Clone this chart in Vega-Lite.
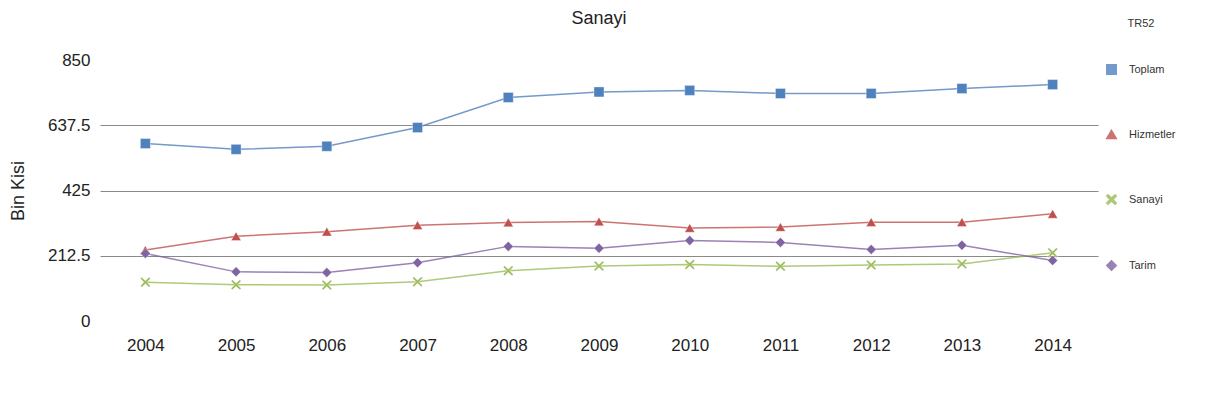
{
  "$schema": "https://vega.github.io/schema/vega-lite/v6.json",
  "width": 998,
  "height": 261,
  "autosize": {"type": "none"},
  "padding": {"left": 100, "top": 60, "right": 113, "bottom": 98},
  "background": "white",
  "config": {
    "font": "Liberation Sans",
    "view": {"stroke": null},
    "title": {"fontSize": 18, "fontWeight": "normal", "color": "#222", "offset": -10}
  },
  "title": {"text": "Sanayi"},
  "data": {
    "values": [
      {"yil": "2004", "seri": "Toplam", "deger": 578},
      {"yil": "2005", "seri": "Toplam", "deger": 559},
      {"yil": "2006", "seri": "Toplam", "deger": 569},
      {"yil": "2007", "seri": "Toplam", "deger": 630},
      {"yil": "2008", "seri": "Toplam", "deger": 728},
      {"yil": "2009", "seri": "Toplam", "deger": 746},
      {"yil": "2010", "seri": "Toplam", "deger": 751},
      {"yil": "2011", "seri": "Toplam", "deger": 741},
      {"yil": "2012", "seri": "Toplam", "deger": 741},
      {"yil": "2013", "seri": "Toplam", "deger": 757},
      {"yil": "2014", "seri": "Toplam", "deger": 770},
      {"yil": "2004", "seri": "Hizmetler", "deger": 231},
      {"yil": "2005", "seri": "Hizmetler", "deger": 276},
      {"yil": "2006", "seri": "Hizmetler", "deger": 291},
      {"yil": "2007", "seri": "Hizmetler", "deger": 312},
      {"yil": "2008", "seri": "Hizmetler", "deger": 321},
      {"yil": "2009", "seri": "Hizmetler", "deger": 324},
      {"yil": "2010", "seri": "Hizmetler", "deger": 303},
      {"yil": "2011", "seri": "Hizmetler", "deger": 306},
      {"yil": "2012", "seri": "Hizmetler", "deger": 322},
      {"yil": "2013", "seri": "Hizmetler", "deger": 322},
      {"yil": "2014", "seri": "Hizmetler", "deger": 349},
      {"yil": "2004", "seri": "Sanayi", "deger": 126},
      {"yil": "2005", "seri": "Sanayi", "deger": 118},
      {"yil": "2006", "seri": "Sanayi", "deger": 117},
      {"yil": "2007", "seri": "Sanayi", "deger": 128},
      {"yil": "2008", "seri": "Sanayi", "deger": 164},
      {"yil": "2009", "seri": "Sanayi", "deger": 179},
      {"yil": "2010", "seri": "Sanayi", "deger": 184},
      {"yil": "2011", "seri": "Sanayi", "deger": 178},
      {"yil": "2012", "seri": "Sanayi", "deger": 182},
      {"yil": "2013", "seri": "Sanayi", "deger": 186},
      {"yil": "2014", "seri": "Sanayi", "deger": 222},
      {"yil": "2004", "seri": "Tarim", "deger": 220},
      {"yil": "2005", "seri": "Tarim", "deger": 160},
      {"yil": "2006", "seri": "Tarim", "deger": 158},
      {"yil": "2007", "seri": "Tarim", "deger": 190},
      {"yil": "2008", "seri": "Tarim", "deger": 243},
      {"yil": "2009", "seri": "Tarim", "deger": 237},
      {"yil": "2010", "seri": "Tarim", "deger": 262},
      {"yil": "2011", "seri": "Tarim", "deger": 256},
      {"yil": "2012", "seri": "Tarim", "deger": 233},
      {"yil": "2013", "seri": "Tarim", "deger": 247},
      {"yil": "2014", "seri": "Tarim", "deger": 197}
    ]
  },
  "encoding": {
    "x": {
      "field": "yil", "type": "ordinal",
      "scale": {"type": "point", "padding": 0.5},
      "axis": {"title": null, "domain": false, "ticks": false, "grid": false, "labelAngle": 0, "labelFontSize": 17, "labelColor": "#222", "labelPadding": 16}
    },
    "y": {
      "field": "deger", "type": "quantitative",
      "scale": {"domain": [0, 850], "nice": false},
      "axis": {
        "title": "Bin Kisi", "titleFontSize": 18, "titleFontWeight": "normal", "titleColor": "#222", "titlePadding": 20,
        "values": [0, 212.5, 425, 637.5, 850], "labelExpr": "toString(datum.value)",
        "domain": false, "ticks": false, "labelFontSize": 17, "labelColor": "#222", "labelPadding": 10,
        "grid": true, "gridColor": "#8a8a8a", "gridWidth": 1.2,
        "gridOpacity": {"condition": {"test": "datum.value === 0 || datum.value === 850", "value": 0}, "value": 1}
      }
    },
    "color": {
      "field": "seri", "type": "nominal",
      "scale": {"domain": ["Toplam", "Hizmetler", "Sanayi", "Tarim"], "range": ["#4f81bd", "#c0504d", "#9bbb59", "#8064a2"]},
      "legend": {
        "title": "TR52", "titleAnchor": "middle", "orient": "none", "legendX": 1006, "legendY": -42,
        "titleFontSize": 11, "titleFontWeight": "normal", "titleColor": "#333", "titlePadding": 35,
        "labelFontSize": 11, "labelColor": "#333", "rowPadding": 49, "symbolSize": 90, "labelOffset": 12
      }
    }
  },
  "layer": [
    {
      "mark": {"type": "line", "strokeWidth": 1.5, "opacity": 0.8},
      "encoding": {"detail": {"field": "seri"}}
    },
    {
      "mark": {"type": "point", "filled": true, "opacity": 1, "size": 100, "stroke": "white", "strokeWidth": 0.6, "strokeOpacity": 0.6},
      "encoding": {
        "shape": {
          "field": "seri", "type": "nominal",
          "scale": {"domain": ["Toplam", "Hizmetler", "Sanayi", "Tarim"], "range": ["square", "triangle-up", "M-0.75,-1L0,-0.3L0.75,-1L1,-0.75L0.3,0L1,0.75L0.75,1L0,0.3L-0.75,1L-1,0.75L-0.3,0L-1,-0.75Z", "diamond"]},
          "legend": {
            "title": "TR52", "titleAnchor": "middle", "orient": "none", "legendX": 1006, "legendY": -42,
            "titleFontSize": 11, "titleFontWeight": "normal", "titleColor": "#333", "titlePadding": 35,
            "labelFontSize": 11, "labelColor": "#333", "rowPadding": 49, "symbolSize": 90, "labelOffset": 12
          }
        }
      }
    }
  ]
}
